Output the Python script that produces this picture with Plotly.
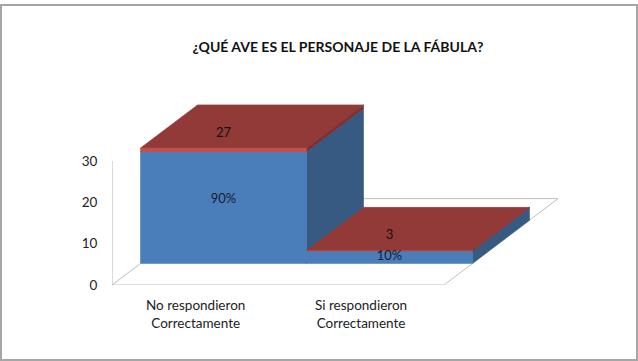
import plotly.graph_objects as go

# ---- data ----
categories = ["No respondieron<br>Correctamente", "Si respondieron<br>Correctamente"]
counts = [27, 3]          # blue series (students)
shares = [0.9, 0.1]       # red series (share of students), stacked on top
y_ticks = [0, 10, 20, 30]
title_text = "¿QUÉ AVE ES EL PERSONAJE DE LA FÁBULA?"

# ---- 3D look (style constants) ----
DX, DY = 0.687, 20.9      # oblique depth vector of the whole floor, in axis units
Z0, Z1 = 0.25, 0.75       # bar depth inside the floor
HALF = 0.5                # half bar width (bars touch)

BLUE_FRONT, BLUE_SIDE, BLUE_TOP = "#4A7EBB", "#375A83", "#3F6EA6"
RED_FRONT, RED_SIDE, RED_TOP = "#C0504D", "#7E3130", "#923A38"
GRID = "#BFBFBF"

fig = go.Figure()

def poly(xs, ys, color):
    fig.add_trace(go.Scatter(x=xs + [xs[0]], y=ys + [ys[0]], mode="lines", fill="toself",
                             fillcolor=color, line=dict(width=0.6, color=color),
                             hoverinfo="skip", showlegend=False))

def line(xs, ys, color=GRID, width=1):
    fig.add_trace(go.Scatter(x=xs, y=ys, mode="lines", line=dict(color=color, width=width),
                             hoverinfo="skip", showlegend=False))

n = len(categories)
x_lo, x_hi = -HALF, n - 1 + HALF
# floor outline + vertical axis line
line([x_lo, x_hi], [0, 0])
line([x_lo, x_lo + DX], [0, DY])
line([x_hi, x_hi + DX], [0, DY])
line([x_lo + DX, x_hi + DX], [DY, DY])
line([x_lo, x_lo], [0, max(y_ticks)], color="#B5B5B5")

def box(i, y0, y1, front, side, top):
    xl, xr = i - HALF, i + HALF
    fx0, fy0 = Z0 * DX, Z0 * DY
    bx0, by0 = Z1 * DX, Z1 * DY
    # side face (right)
    poly([xr + fx0, xr + bx0, xr + bx0, xr + fx0], [y0 + fy0, y0 + by0, y1 + by0, y1 + fy0], side)
    # top face
    poly([xl + fx0, xr + fx0, xr + bx0, xl + bx0], [y1 + fy0, y1 + fy0, y1 + by0, y1 + by0], top)
    # front face
    poly([xl + fx0, xr + fx0, xr + fx0, xl + fx0], [y0 + fy0, y0 + fy0, y1 + fy0, y1 + fy0], front)

for i in range(n):
    c, s = counts[i], shares[i]
    box(i, 0, c, BLUE_FRONT, BLUE_SIDE, BLUE_TOP)
    box(i, c, c + s, RED_FRONT, RED_SIDE, RED_TOP)

# data labels
pct_text = [f"{round(s * 100)}%" for s in shares]
cnt_text = [str(c) for c in counts]
fig.add_trace(go.Scatter(
    x=[i + Z0 * DX for i in range(n)],
    y=[Z0 * DY + c / 2 + (2 if c > 10 else 0) for c in counts],
    mode="text", text=pct_text, textfont=dict(family="Lato", size=13, color="#1a1a2e"),
    hoverinfo="skip", showlegend=False))
fig.add_trace(go.Scatter(
    x=[i + Z0 * DX for i in range(n)],
    y=[Z0 * DY + counts[i] + shares[i] + 0.17 * DY for i in range(n)],
    mode="text", text=cnt_text, textfont=dict(family="Lato", size=13, color="#111"),
    hoverinfo="skip", showlegend=False))

# category labels
for i, cat in enumerate(categories):
    fig.add_annotation(x=i, y=0, xref="x", yref="y", text=cat, showarrow=False,
                       yshift=-29, yanchor="middle", align="center",
                       font=dict(family="Lato", size=13.5, color="#222"))

W, H = 638, 361
L, R, T, B = 112, 38, 60, 76
px_per_x = 166.0
px_per_y = 4.133
plot_w, plot_h = W - L - R, H - T - B

fig.update_layout(
    width=W, height=H, margin=dict(l=L, r=R, t=T, b=B, autoexpand=False),
    paper_bgcolor="white", plot_bgcolor="white",
    title=dict(text=title_text, x=338 / W, xanchor="center", y=1 - 47 / H, yanchor="middle",
               yref="container", xref="container",
               font=dict(family="Lato", size=14, color="#111", weight="bold")),
    xaxis=dict(range=[x_lo, x_lo + plot_w / px_per_x], showgrid=False, zeroline=False,
               showline=False, showticklabels=False, fixedrange=True),
    yaxis=dict(range=[0, plot_h / px_per_y], tickvals=y_ticks, showgrid=False, zeroline=False,
               showline=False, ticks="outside", ticklen=11, tickcolor="rgba(0,0,0,0)",
               tickfont=dict(family="Lato", size=13.5, color="#222"), fixedrange=True),
    shapes=[dict(type="rect", xref="paper", yref="paper",
                 x0=(1 - L) / plot_w, x1=(637 - L) / plot_w,
                 y0=(H - B - 360) / plot_h, y1=(H - B - 5) / plot_h,
                 line=dict(color="#A6A6A6", width=2))],
)

fig.write_html("out.html")
